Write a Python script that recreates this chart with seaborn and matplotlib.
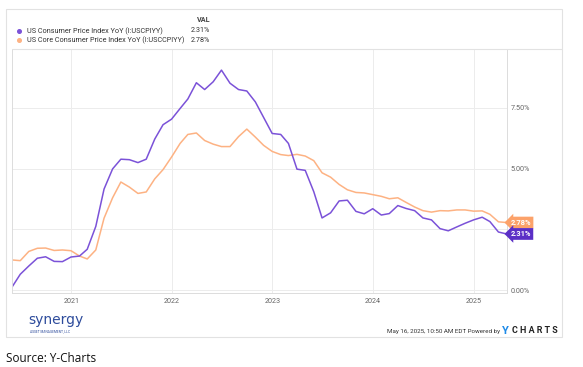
import matplotlib.pyplot as plt
import matplotlib.dates as mdates
import pandas as pd
import seaborn as sns
from matplotlib.lines import Line2D
from matplotlib.patches import Rectangle

# monthly YoY values, May 2020 .. Apr 2025
dates = pd.date_range("2020-05-31", "2025-04-30", freq="ME")
cpi = [0.12, 0.65, 0.99, 1.31, 1.37, 1.18, 1.17, 1.36,
       1.40, 1.68, 2.62, 4.16, 4.99, 5.39, 5.37, 5.25, 5.39, 6.22, 6.81, 7.04,
       7.48, 7.87, 8.54, 8.26, 8.58, 9.06, 8.52, 8.26, 8.20, 7.75, 7.11, 6.45,
       6.41, 6.04, 4.98, 4.93, 4.05, 2.97, 3.18, 3.67, 3.70, 3.24, 3.14, 3.35,
       3.09, 3.15, 3.48, 3.36, 3.27, 2.97, 2.89, 2.53, 2.44, 2.60, 2.75, 2.89,
       3.00, 2.82, 2.39, 2.31]
core = [1.24, 1.21, 1.59, 1.72, 1.73, 1.63, 1.65, 1.62,
        1.40, 1.28, 1.65, 2.96, 3.80, 4.45, 4.24, 3.98, 4.04, 4.58, 4.96, 5.48,
        6.04, 6.41, 6.47, 6.16, 6.01, 5.91, 5.91, 6.32, 6.63, 6.30, 5.96, 5.71,
        5.58, 5.54, 5.59, 5.52, 5.33, 4.83, 4.65, 4.35, 4.13, 4.02, 4.00, 3.93,
        3.86, 3.76, 3.80, 3.61, 3.42, 3.27, 3.21, 3.27, 3.26, 3.30, 3.30, 3.25,
        3.26, 3.12, 2.81, 2.78]
series_names = ["US Consumer Price Index YoY (I:USCPIYY)",
                "US Core Consumer Price Index YoY (I:USCCPIYY)"]
colors = ["#7b52d8", "#fdb283"]
tag_colors = ["#5b2fc6", "#fca26a"]
y_ticks = [0, 2.5, 5, 7.5]

df = pd.DataFrame({"date": list(dates) * 2,
                   "value": cpi + core,
                   "series": [series_names[0]] * len(cpi) + [series_names[1]] * len(core)})

sns.set_theme(style="white")
plt.rcParams["font.family"] = ["Roboto", "DejaVu Sans"]

fig = plt.figure(figsize=(5.83, 3.67), dpi=100)
ax = fig.add_axes([12 / 583, 1 - 292.7 / 367, (506.7 - 12) / 583, (292.7 - 49) / 367])

sns.lineplot(data=df, x="date", y="value", hue="series", hue_order=series_names[::-1],
             palette=dict(zip(series_names, colors)), linewidth=1.1, legend=False, ax=ax)

ax.set_xlim(dates[0], dates[-1])
ax.set_ylim(-0.11, 9.93)
ax.set_xlabel("")
ax.set_ylabel("")
ax.xaxis.set_major_locator(mdates.YearLocator())
ax.xaxis.set_major_formatter(mdates.DateFormatter("%Y"))
ax.yaxis.tick_right()
ax.set_yticks(y_ticks)
# the 2.50% label sits behind the value tags in the original
ax.set_yticklabels(["" if v == 2.5 else f"{v:.2f}%" for v in y_ticks])
ax.tick_params(axis="both", length=0, labelsize=5.2, labelcolor="#666666")
ax.tick_params(axis="y", pad=3)
ax.tick_params(axis="x", pad=4)
ax.grid(True, color="#ececec", linewidth=0.7)
for side in ["left", "bottom", "right"]:
    ax.spines[side].set_color("#dcdcdc")
    ax.spines[side].set_linewidth(0.7)
ax.spines["top"].set_visible(False)

# end-of-line value tags
for vals, tc in zip([core, cpi], tag_colors[::-1]):
    ax.annotate(f"{vals[-1]:.2f}%", xy=(1, vals[-1]), xycoords=("axes fraction", "data"),
                xytext=(3, 0), textcoords="offset points", va="center", ha="left",
                fontsize=5.4, color="white", fontweight="bold",
                bbox=dict(boxstyle="larrow,pad=0.25", fc=tc, ec="none"))

# outer frame and header
fig.add_artist(Rectangle((6 / 583, 1 - 337 / 367), 556 / 583, 328 / 367,
                         transform=fig.transFigure, fill=False, ec="#e2e2e2", lw=0.8))
fig.add_artist(Line2D([12 / 583, 562 / 583], [1 - 49 / 367] * 2,
                      transform=fig.transFigure, color="#e2e2e2", lw=0.8))
fig.text(210 / 583, 1 - 20 / 367, "VAL", ha="right", va="center", fontsize=5.2,
         color="#444444", fontweight="bold")
for i, (name, col, vals) in enumerate(zip(series_names, colors, [cpi, core])):
    yy = 1 - (31 + 9 * i) / 367
    fig.add_artist(Line2D([19 / 583], [yy], marker="o", markersize=2.6, color=col,
                          transform=fig.transFigure))
    fig.text(27 / 583, yy, name, ha="left", va="center", fontsize=5.2, color="#333333")
    fig.text(210 / 583, yy, f"{vals[-1]:.2f}%", ha="right", va="center",
             fontsize=5.2, color="#333333")

# footer
fig.text(28 / 583, 1 - 320 / 367, "synergy", fontsize=10, color="#2e4c9c",
         va="center", ha="left", family=["DejaVu Sans"])
fig.text(30 / 583, 1 - 331 / 367, "ASSET MANAGEMENT, LLC", fontsize=2.3,
         color="#2e4c9c", va="center", ha="left")
fig.text(500 / 583, 1 - 331 / 367, "May 16, 2025, 10:50 AM EDT Powered by", fontsize=4.5,
         color="#333333", va="center", ha="right")
fig.text(502 / 583, 1 - 330.5 / 367, "Y", fontsize=8, color="#1f8be8",
         fontweight="bold", va="center", ha="left")
fig.text(512 / 583, 1 - 330.5 / 367, "C H A R T S", fontsize=6.4, color="#222222",
         fontweight="bold", va="center", ha="left")
fig.text(6 / 583, 1 - 358 / 367, "Source: Y-Charts", fontsize=8.5, color="#111111",
         va="center", ha="left", family=["Open Sans", "DejaVu Sans"])

fig.savefig("out.png", dpi=100)
